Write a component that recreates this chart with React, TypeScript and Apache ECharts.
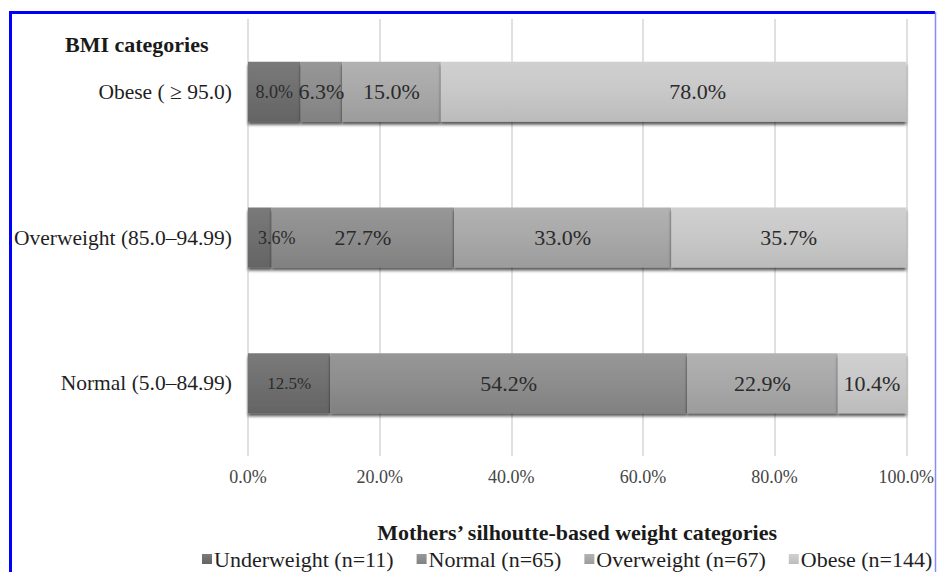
import React, { useEffect, useRef } from "react";
import * as echarts from "echarts";

const categories = ["Normal (5.0–84.99)", "Overweight (85.0–94.99)", "Obese ( ≥ 95.0)"];
const seriesNames = ["Underweight (n=11)", "Normal (n=65)", "Overweight (n=67)", "Obese (n=144)"];
const underweightValues = [12.5, 3.6, 8.0];
const normalValues = [54.2, 27.7, 6.3];
const overweightValues = [22.9, 33.0, 15.0];
const obeseValues = [10.4, 35.7, 78.0];
const xTicks = [0, 20, 40, 60, 80, 100];

const FONT = "'Liberation Serif', 'Times New Roman', serif";
const colors = ["#6f6f6f", "#8d8d8d", "#a8a8a8", "#c8c8c8"];
const topColors = ["#7a7a7a", "#979797", "#b2b2b2", "#d0d0d0"];
const bottomColors = ["#646464", "#818181", "#9c9c9c", "#bbbbbb"];

export default function App() {
  const ref = useRef<HTMLDivElement>(null);
  useEffect(() => {
    if (!ref.current) return;
    const chart = echarts.init(ref.current, null, { renderer: "svg" });
    const all = [underweightValues, normalValues, overweightValues, obeseValues];
    const series = all.map((vals, si) => ({
      name: seriesNames[si],
      type: "bar",
      stack: "total",
      barWidth: 60,
      clip: true,
      itemStyle: {
        color: new echarts.graphic.LinearGradient(0, 0, 0, 1, [
          { offset: 0, color: topColors[si] },
          { offset: 0.5, color: colors[si] },
          { offset: 1, color: bottomColors[si] },
        ]),
        shadowColor: "rgba(0,0,0,0.65)",
        shadowBlur: 3,
        shadowOffsetY: 3,
      },
      label: {
        show: true,
        position: "inside",
        formatter: (p: any) => p.value.toFixed(1) + "%",
        fontFamily: FONT,
        fontSize: 22,
        color: "#2b2b2b",
      },
      data: vals.map((v) => {
        const item: any = { value: v };
        if (si === 0) {
          item.label = v < 5
            ? { fontSize: 18, position: "insideLeft", distance: 10 }
            : { fontSize: v > 10 ? 17 : 18 };
        }
        if (si === 3 && v > 70) {
          item.label = { offset: [24, 0] };
        }
        return item;
      }),
    }));

    chart.setOption({
      animation: false,
      color: colors,
      title: {
        text: "BMI categories",
        left: 60,
        top: 28,
        textStyle: { fontFamily: FONT, fontSize: 22, fontWeight: "bold", color: "#1a1a1a" },
      },
      grid: { left: 248, right: 30, top: 19, bottom: 116 },
      xAxis: {
        type: "value",
        min: 0,
        max: 100,
        interval: 20,
        name: "Mothers’ silhoutte-based weight categories",
        nameLocation: "middle",
        nameGap: 65,
        nameTextStyle: { fontFamily: FONT, fontSize: 22, fontWeight: "bold", color: "#1a1a1a" },
        axisLine: { show: false },
        axisTick: { show: false },
        axisLabel: {
          margin: 12,
          fontFamily: FONT,
          fontSize: 18,
          color: "#454545",
          formatter: (v: number) => (xTicks.includes(v) ? v.toFixed(1) + "%" : ""),
        },
        splitLine: { show: true, lineStyle: { color: "#d6d6d6", width: 1.5 } },
      },
      yAxis: {
        type: "category",
        data: categories,
        axisLine: { show: false },
        axisTick: { show: false },
        axisLabel: { margin: 16, fontFamily: FONT, fontSize: 21.5, color: "#1f1f1f" },
      },
      legend: {
        data: seriesNames,
        left: 202,
        top: 548,
        padding: 0,
        icon: "rect",
        itemWidth: 10,
        itemHeight: 10,
        itemGap: 23,
        textStyle: { fontFamily: FONT, fontSize: 22, color: "#1f1f1f", padding: [0, 0, 0, -3] },
      },
      graphic: [
        { type: "line", shape: { x1: 10.5, y1: 12, x2: 10.5, y2: 572 }, style: { stroke: "#0000ff", lineWidth: 3 } },
        { type: "line", shape: { x1: 9, y1: 12.5, x2: 935, y2: 12.5 }, style: { stroke: "#0000ff", lineWidth: 3 } },
        { type: "line", shape: { x1: 935.5, y1: 12, x2: 935.5, y2: 572 }, style: { stroke: "#8a8aff", lineWidth: 1.5 } },
      ],
      series,
    });
    return () => chart.dispose();
  }, []);
  return (
    <div
      ref={ref}
      style={{ position: "fixed", left: 0, top: 0, width: 937, height: 572, background: "#fff" }}
    />
  );
}
